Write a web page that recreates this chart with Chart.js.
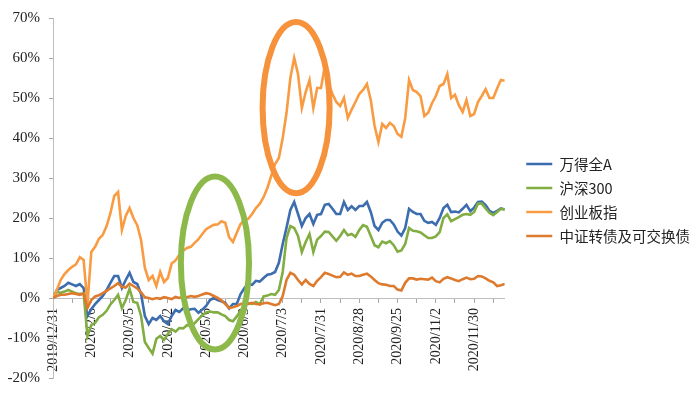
<!DOCTYPE html>
<html><head><meta charset="utf-8">
<script src="https://cdn.jsdelivr.net/npm/chart.js@4/dist/chart.umd.min.js"></script>
<style>html,body{margin:0;padding:0;background:#fff}#wrap{width:700px;height:396px;position:relative}</style>
</head><body><div id="wrap"><canvas id="c"></canvas></div>
<script>
// trading-day index step between samples
const STEP = 2;
const tickLabels = ['2019/12/31','2020/2/6','2020/3/5','2020/4/2','2020/5/6','2020/6/3','2020/7/3','2020/7/31','2020/8/28','2020/9/25','2020/11/2','2020/11/30'];
const labelEvery = 20;
const tickEvery = 10;
const seriesNames = ['万得全A','沪深300','创业板指','中证转债及可交换债'];
const seriesColors = ['#3C6DAF','#82AD42','#F99B42','#DE7A2E'];

const windA = [0,2,2.5,3,3.8,3.4,3,3.5,2.5,-4.5,
-2.8,-1.5,-0.5,0.5,2,3.8,5.5,5.5,2.5,4.5,
6.3,4,3.5,1,-4.5,-6.5,-5,-5.5,-4.5,-5.8,
-6.5,-4.5,-3,-3.5,-2.6,-3.1,-2.8,-2.7,-3.7,-2.9,
-2,-0.5,0,-0.5,-0.8,-1.2,-2.6,-1.5,-1.5,1,
2.5,3.5,3.3,4.3,4.1,5,5.8,6,6.5,8.8,
13.5,17.6,22,24,21,18,20,21,18.5,20.8,
21,23.3,23.5,22.3,21,21,24,22,22.9,22,
23,23,24,21.5,18,17,18.8,19.5,19.5,18.4,
16.6,15.6,17.5,22.3,21.5,21,21,19.3,18.8,19,
18.3,20,22.5,23.3,21.5,21.6,21.4,22.3,23.3,21.7,
22.6,24,24.1,23.2,21.8,21.3,21.8,22.4,22.1];

const hs300 = [0,1.5,1.3,1.6,2,1.6,1.2,1,1.2,-9.5,
-6.8,-6.2,-4.8,-4.2,-3.2,-1.6,-0.5,0.8,-2.5,-0.5,
2.3,-1,-1.2,-4.5,-11,-12.5,-13.9,-10.2,-9.5,-10.5,
-9,-7.8,-8.4,-7.5,-7.6,-6.8,-6.9,-6.3,-5.3,-4.3,
-3.6,-3.4,-3.6,-3.6,-4.1,-4.5,-5.5,-5.8,-4.6,-3.2,
-1.6,-1.3,-1.5,-1,-1.6,0.4,0.6,1,0.8,2,
6.5,15,18,17.5,15.5,11.5,14,16,11.5,14.6,
15.5,16.6,16.5,15.4,14.3,15.5,17,15.7,16,15.3,
17,18.2,17.8,15.5,13.2,12.7,14.1,13.7,14.2,13.2,
11.6,11.9,13.5,17.5,16.8,16.7,16.4,15.7,15,15,
15.4,16.5,20,20.9,19.2,19.7,20.2,20.8,21,20.8,
21.5,23.6,23.6,22.4,21.3,20.7,21.5,22.3,22.1];

const chinext = [0,2,4.5,6,7,7.8,8.4,10.2,9.5,-1.5,
11.5,12.8,14.8,15.8,18,21.2,25.5,26.5,17,20.5,
22.5,20,18.2,14.5,7.5,4.5,5.5,3,6.5,4,
5,8.6,9.4,10.8,11.8,12.5,12.8,13.8,14.7,16,
17.2,17.8,18.3,18.4,19.2,18.8,15.2,14,16.3,18.5,
19.5,19.8,21,22.5,23.5,25.2,27.5,30.5,33.5,35,
40,46.3,55,60,56,47.5,51.5,54.5,47.5,52.5,
52.5,58,53.5,51,49,48,50,45,47.1,49,
51,52,53.5,49.5,43,39,43.5,42.5,43.8,43,
41,40.3,45,54.5,52,51.5,50.5,45.5,46.3,48.7,
50.5,53,53.5,56,50,50.8,48.2,46.5,49.5,45.5,
46,49,50.5,52.2,50,50,52.4,54.5,54.3];

const cbond = [0,0.5,0.8,0.8,1,1.2,1,0.8,1.1,-2.5,
-0.5,0.4,0.7,1.2,1.8,2.4,3,3.7,2.8,2.6,
3.6,3,2.4,1.4,0.2,0,-0.3,0,-0.2,0.2,
0,-0.3,0.3,0,0.3,0.2,0.5,0.3,0.5,0.9,
1.2,1,0.5,0,-0.6,-1.5,-2.5,-2.3,-2,-1.5,
-1.4,-1.5,-1.2,-1.5,-1.6,-1.3,-1.2,-1.5,-1.8,-1.5,
0.5,4.5,6.3,5.8,4.5,3.4,4.5,3.5,3,4.3,
5.2,6.3,6,5.6,5.2,5.3,6.4,5.8,6.1,5.5,
5.5,5.8,6.1,5.4,4.5,3.7,3.4,3.3,3,3,
2.1,1.9,3.8,4.9,4.9,4.6,4.8,4.7,4.6,5.1,
4.2,3.9,4.8,5.2,4.9,4.5,4.2,4.7,5.1,4.7,
4.8,5.5,5.4,4.9,4.3,3.9,3,3.2,3.5];

// highlight ellipses, in data units (x: trading-day index, y: percent)
const ellipseCx = [84.6, 127];
const ellipseCy = [8.75, 47.6];
const ellipseRx = [17.8, 17.5];
const ellipseRy = [21.6, 21.4];
const ellipseColors = ['#8DB94B','#F7923C'];

const allSeries = [windA, hs300, chinext, cbond];
const lastIdx = (windA.length - 1) * STEP;

const ellipsePlugin = {
  id: 'ellipses',
  afterDatasetsDraw(chart) {
    const {ctx, scales: {x, y}} = chart;
    ctx.save();
    for (let i = 0; i < ellipseCx.length; i++) {
      const cx = x.getPixelForValue(ellipseCx[i]);
      const cy = y.getPixelForValue(ellipseCy[i]);
      const rx = Math.abs(x.getPixelForValue(ellipseCx[i] + ellipseRx[i]) - cx);
      const ry = Math.abs(y.getPixelForValue(ellipseCy[i] + ellipseRy[i]) - cy);
      ctx.beginPath();
      ctx.ellipse(cx, cy, rx, ry, 0, 0, Math.PI * 2);
      ctx.strokeStyle = ellipseColors[i];
      ctx.lineWidth = 6;
      ctx.stroke();
    }
    ctx.restore();
  }
};

new Chart(document.getElementById('c'), {
  type: 'line',
  data: {
    datasets: allSeries.map((arr, i) => ({
      label: seriesNames[i],
      data: arr.map((v, k) => ({x: k * STEP, y: v})),
      borderColor: seriesColors[i],
      backgroundColor: seriesColors[i],
      borderWidth: 2.6,
      pointRadius: 0,
      tension: 0,
      fill: false,
      order: allSeries.length - i
    }))
  },
  options: {
    responsive: true,
    maintainAspectRatio: false,
    animation: false,
    layout: {padding: {top: 17, bottom: 13, left: 0, right: 0}},
    plugins: {
      tooltip: {enabled: false},
      legend: {
        position: 'right',
        maxWidth: 220,
        labels: {
          usePointStyle: true,
          pointStyle: 'line',
          pointStyleWidth: 26,
          padding: 9.5,
          color: '#222',
          font: {family: '"Noto Sans CJK SC", "Noto Sans", sans-serif', size: 14.5},
          sort: (a, b) => a.datasetIndex - b.datasetIndex
        }
      }
    },
    scales: {
      x: {
        type: 'linear',
        min: 0,
        max: lastIdx,
        position: {y: 0},
        grid: {drawOnChartArea: false, drawTicks: true, tickLength: 4, color: '#A6A6A6'},
        border: {color: '#BFBFBF', width: 1},
        afterBuildTicks: (s) => {
          const t = [];
          for (let v = 0; v <= lastIdx; v += tickEvery) t.push({value: v});
          s.ticks = t;
        },
        ticks: {
          autoSkip: false,
          minRotation: 90,
          maxRotation: 90,
          padding: 6,
          color: '#222',
          font: {family: '"Liberation Serif", "Times New Roman", serif', size: 14},
          callback: (v) => (v % labelEvery === 0 ? (tickLabels[v / labelEvery] || '') : '')
        }
      },
      y: {
        type: 'linear',
        position: 'left',
        min: -20,
        max: 70,
        grid: {drawOnChartArea: false, drawTicks: true, tickLength: 4, color: '#A6A6A6'},
        border: {color: '#BFBFBF', width: 1},
        afterFit: (s) => { s.width = 53; },
        ticks: {
          stepSize: 10,
          padding: 9,
          color: '#222',
          font: {family: '"Liberation Serif", "Times New Roman", serif', size: 15},
          callback: (v) => v + '%'
        }
      },
      yPad: {
        type: 'linear',
        position: 'right',
        display: true,
        grid: {display: false},
        border: {display: false},
        ticks: {display: false},
        afterFit: (s) => { s.width = 12; }
      }
    }
  },
  plugins: [ellipsePlugin]
});
</script>
</body></html>
